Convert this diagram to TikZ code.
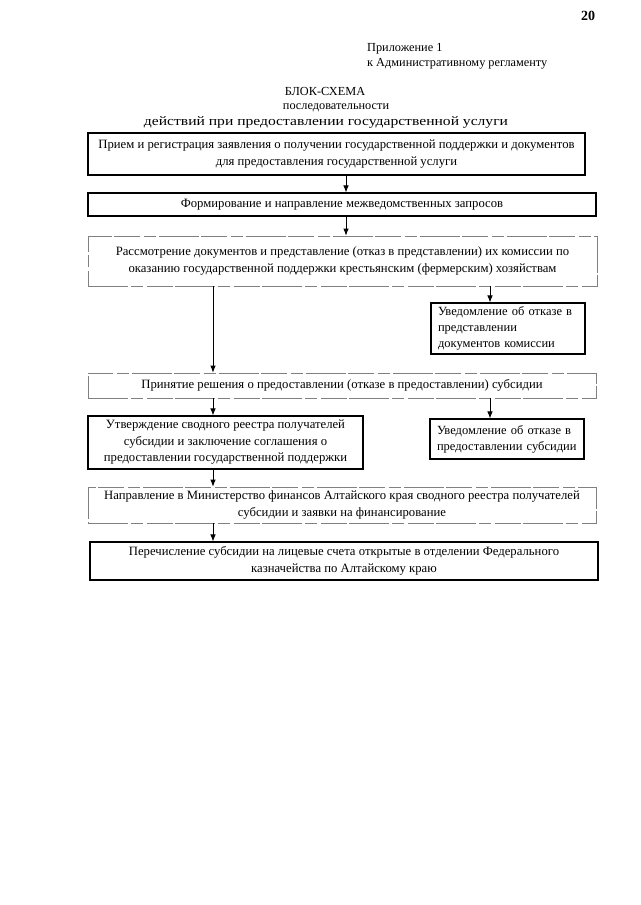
\documentclass[tikz,border=0pt]{standalone}
\usepackage{fontspec}
\setmainfont{Liberation Serif}
\usetikzlibrary{arrows.meta}
\begin{document}
\begin{tikzpicture}[x=1pt,y=-1pt,
    box/.style={draw, line width=1.1pt, align=center, inner sep=0pt,
      font=\fontsize{12.7}{16.5}\selectfont},
    faint/.style={draw=black!50, line width=.8pt,
      dash pattern=on 40pt off 3pt on 12pt off 4pt on 26pt off 2pt},
    note/.style={box, align=left, text width=140pt, inner xsep=7pt,
      font=\fontsize{12.5}{16}\selectfont},
    arr/.style={-{Latex[length=7pt,width=5.5pt]}, line width=.8pt}]

        \useasboundingbox (0,0) rectangle (640,905);

        \begin{scope}[every node/.style={anchor=base, inner sep=0pt,
            font=\fontsize{12.3}{15}\selectfont}]
          \node[font=\bfseries\fontsize{14}{16}\selectfont] (page) at (588,20) {20};
          \node[anchor=base west] (app1) at (367,51) {Приложение 1};
          \node[anchor=base west] (app2) at (367,66) {к Административному регламенту};
          \node (title1) at (325,95) {БЛОК-СХЕМА};
          \node (title2) at (336,109) {последовательности};
          \node (title3) at (326,125)
            {\scalebox{1.2}[1]{\fontsize{13}{15}\selectfont действий при предоставлении государственной услуги}};
        \end{scope}

        \begin{scope}[every node/.style={box}]
          \node[minimum width=497pt, minimum height=42pt] (recv) at (336.5,154)
            {Прием и регистрация заявления о получении государственной поддержки и документов\\
             для предоставления государственной услуги};
          \node[minimum width=508pt, minimum height=23pt] (req) at (342,204.5)
            {Формирование и направление межведомственных запросов};
          \node[faint, minimum width=509pt, minimum height=50pt] (review) at (342.5,261)
            {Рассмотрение документов и представление (отказ в представлении) их комиссии по\\
             оказанию государственной поддержки крестьянским (фермерским) хозяйствам};
          \node[note, minimum height=51pt] (refuse1) at (508,328.5)
            {Уведомление об отказе в\\ представлении\\ документов комиссии};
          \node[faint, minimum width=508pt, minimum height=25pt] (decide) at (342,385.5)
            {Принятие решения о предоставлении (отказе в предоставлении) субсидии};
          \node[minimum width=275pt, minimum height=53pt] (approve) at (225.5,442.5)
            {Утверждение сводного реестра получателей\\
             субсидии и заключение соглашения о\\
             предоставлении государственной поддержки};
          \node[note, minimum height=40pt] (refuse2) at (507,439)
            {Уведомление об отказе в\\ предоставлении субсидии};
          \node[faint, minimum width=508pt, minimum height=36pt] (send) at (342,505)
            {Направление в Министерство финансов Алтайского края сводного реестра получателей\\
             субсидии и заявки на финансирование};
          \node[minimum width=508pt, minimum height=38pt] (pay) at (344,561)
            {Перечисление субсидии на лицевые счета открытые в отделении Федерального\\
             казначейства по Алтайскому краю};
        \end{scope}

        \coordinate (mid) at (346,0);
        \coordinate (lft) at (213,0);
        \coordinate (rgt) at (490,0);

        \begin{scope}[every path/.style={arr}]
          \draw (recv.south -| mid) -- (req.north -| mid);
          \draw (req.south -| mid) -- (review.north -| mid);
          \draw (review.south -| lft) -- (decide.north -| lft);
          \draw (review.south -| rgt) -- (refuse1.north -| rgt);
          \draw (decide.south -| lft) -- (approve.north -| lft);
          \draw (decide.south -| rgt) -- (refuse2.north -| rgt);
          \draw (approve.south -| lft) -- (send.north -| lft);
          \draw (send.south -| lft) -- (pay.north -| lft);
        \end{scope}

      \end{tikzpicture}
\end{document}
